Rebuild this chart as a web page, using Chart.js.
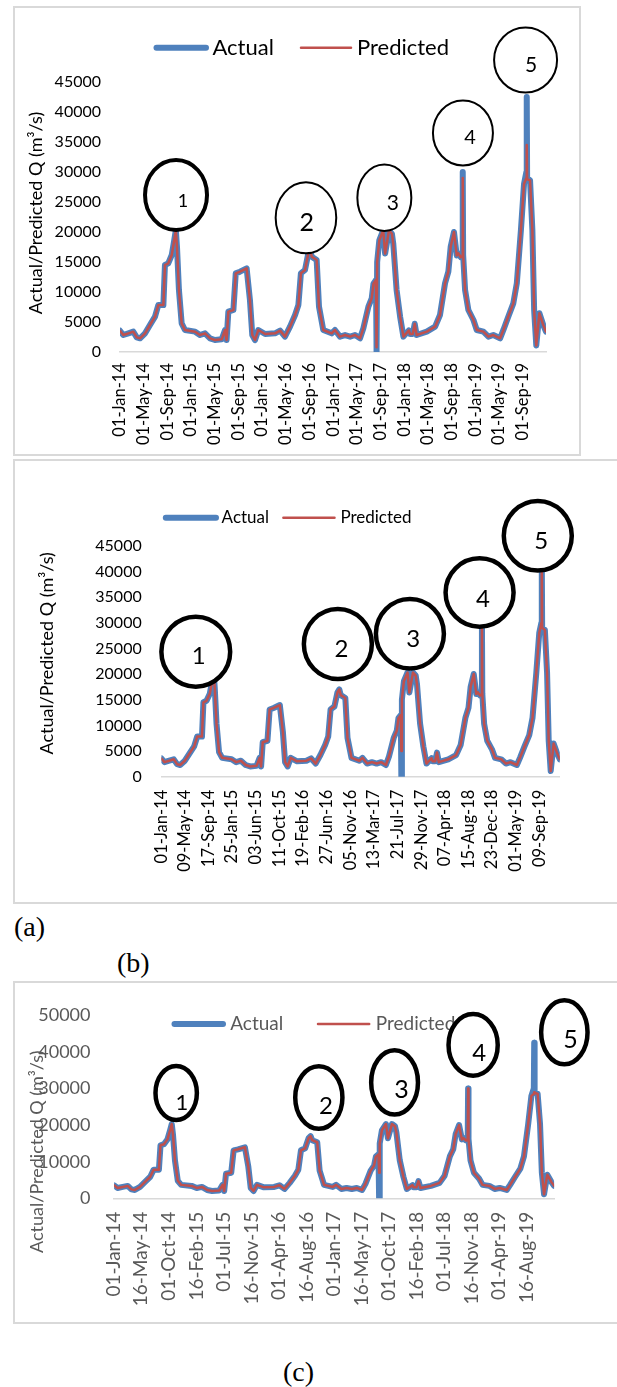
<!DOCTYPE html>
<html>
<head>
<meta charset="utf-8">
<script src="https://cdn.jsdelivr.net/npm/chart.js@4.4.1/dist/chart.umd.min.js"></script>
<style>
  html, body { margin: 0; padding: 0; background: #fff; }
  body { position: relative; width: 617px; height: 1387px; overflow: hidden; }
  .frame { position: absolute; box-sizing: border-box; border: 2px solid #d9d9d9; }
  canvas { position: absolute; }
  .tag { position: absolute; font-family: 'Liberation Serif', 'Times New Roman', serif; font-size: 28px; line-height: 1; color: #000; }
</style>
</head>
<body>
<div class="frame" style="left:13px;top:6px;width:568px;height:450px"></div>
<div class="frame" style="left:13px;top:459px;width:620px;height:445px"></div>
<div class="frame" style="left:13px;top:981px;width:620px;height:343px"></div>

<canvas id="chartA" width="568" height="450" style="left:13px;top:6px"></canvas>
<canvas id="chartB" width="604" height="445" style="left:13px;top:459px"></canvas>
<canvas id="chartC" width="604" height="343" style="left:13px;top:981px"></canvas>

<div class="tag" style="left:14px;top:913px">(a)</div>
<div class="tag" style="left:117px;top:949px">(b)</div>
<div class="tag" style="left:283px;top:1358px">(c)</div>

<script>
// daily discharge, sampled where the curve turns
const flowDates = [
  '2014-01-01', '2014-01-18', '2014-02-13', '2014-03-10', '2014-03-28', '2014-04-14', '2014-05-10', '2014-06-04', '2014-06-30', '2014-07-17',
  '2014-08-12', '2014-08-20', '2014-09-06', '2014-09-24', '2014-10-07', '2014-10-15', '2014-10-21', '2014-10-31', '2014-11-14', '2014-12-01',
  '2015-01-22', '2015-02-16', '2015-03-14', '2015-04-09', '2015-05-04', '2015-06-08', '2015-06-25', '2015-07-03', '2015-07-12', '2015-08-07',
  '2015-08-19', '2015-09-10', '2015-10-14', '2015-10-31', '2015-11-12', '2015-11-26', '2015-12-13', '2016-01-17', '2016-03-08', '2016-04-03',
  '2016-04-28', '2016-05-24', '2016-06-19', '2016-07-06', '2016-07-19', '2016-08-09', '2016-08-26', '2016-09-05', '2016-09-13', '2016-10-08',
  '2016-10-20', '2016-11-11', '2016-12-24', '2017-01-10', '2017-02-05', '2017-03-03', '2017-03-29', '2017-04-23', '2017-05-19', '2017-06-05',
  '2017-07-01', '2017-07-18', '2017-07-27', '2017-08-09', '2017-08-12', '2017-08-15', '2017-08-26', '2017-09-15', '2017-09-25', '2017-10-15',
  '2017-10-30', '2017-11-06', '2017-11-23', '2017-12-11', '2017-12-28', '2018-01-25', '2018-01-31', '2018-02-14', '2018-02-24', '2018-03-06',
  '2018-04-27', '2018-06-09', '2018-07-04', '2018-07-30', '2018-08-16', '2018-08-28', '2018-09-14', '2018-09-28', '2018-10-06', '2018-10-19',
  '2018-10-27', '2018-10-29', '2018-10-31', '2018-11-10', '2018-11-27', '2018-12-23', '2019-01-09', '2019-02-12', '2019-03-10', '2019-04-04',
  '2019-05-09', '2019-05-26', '2019-06-20', '2019-07-16', '2019-08-03', '2019-08-24', '2019-09-09', '2019-09-21', '2019-09-23', '2019-09-25',
  '2019-10-10', '2019-10-22', '2019-10-31', '2019-11-11', '2019-11-27', '2019-12-17', '2019-12-31'
]

const actualQ = [
  3550, 2830, 3110, 3390, 2440, 2280, 3110, 4500, 5890, 7830,
  7830, 14500, 14780, 16170, 18670, 20300, 17500, 10330, 4780, 3670,
  3390, 2830, 3110, 2280, 2000, 2110, 3670, 2000, 6720, 7000,
  13100, 13390, 13950, 8670, 2830, 2000, 3670, 3000, 3110, 3560,
  2560, 4220, 6170, 7830, 13120, 13670, 16450, 17000, 15890, 15330,
  7560, 3670, 3110, 3670, 2560, 2830, 2560, 2830, 2280, 3940,
  7560, 8950, 11400, 12000, 0, 15000, 18600, 20300, 16400, 20300,
  19700, 18000, 10330, 5890, 2560, 3600, 3000, 3000, 4700, 2830,
  3390, 4220, 6170, 11450, 13390, 17550, 20000, 16100, 16450, 15800,
  16000, 30000, 16200, 10330, 7000, 5330, 3670, 3390, 2560, 2830,
  2280, 3670, 5890, 8110, 11450, 20300, 28000, 30000, 42500, 29000,
  28600, 20300, 7000, 1100, 6450, 4500, 3390
]

// model (a)
const predictedA = [
  3550, 2830, 3110, 3390, 2440, 2280, 3110, 4500, 5890, 7830,
  7830, 14500, 14780, 16170, 18670, 20300, 17500, 10330, 4780, 3670,
  3390, 2830, 3110, 2280, 2000, 2110, 3670, 2000, 6720, 7000,
  13100, 13390, 13950, 8670, 2830, 2000, 3670, 3000, 3110, 3560,
  2560, 4220, 6170, 7830, 13120, 13670, 16450, 17000, 15890, 15330,
  7560, 3670, 3110, 3670, 2560, 2830, 2560, 2830, 2280, 3940,
  7560, 8950, 11400, 12000, 800, 15000, 18600, 20300, 16400, 20300,
  19700, 18000, 10330, 5890, 2560, 3600, 3000, 3000, 4700, 2830,
  3390, 4220, 6170, 11450, 13390, 17550, 20000, 16100, 16450, 15800,
  16000, 29000, 16200, 10330, 7000, 5330, 3670, 3390, 2560, 2830,
  2280, 3670, 5890, 8110, 11450, 20300, 28000, 29000, 34500, 28800,
  28600, 20300, 7000, 1100, 6450, 4500, 3390
]

// model (b)
const predictedB = [
  3550, 2830, 3110, 3390, 2440, 2280, 3110, 4500, 5890, 7830,
  7830, 14500, 14780, 16170, 18670, 20300, 17500, 10330, 4780, 3670,
  3390, 2830, 3110, 2280, 2000, 2110, 3670, 2000, 6720, 7000,
  13100, 13390, 13950, 8670, 2830, 2000, 3670, 3000, 3110, 3560,
  2560, 4220, 6170, 7830, 13120, 13670, 16450, 17000, 15890, 15330,
  7560, 3670, 3110, 3670, 2560, 2830, 2560, 2830, 2280, 3940,
  7560, 8950, 11400, 12000, 5000, 15000, 18600, 20300, 16400, 20300,
  19700, 18000, 10330, 5890, 2560, 3600, 3000, 3000, 4700, 2830,
  3390, 4220, 6170, 11450, 13390, 17550, 20000, 16100, 16450, 15800,
  16000, 29500, 16200, 10330, 7000, 5330, 3670, 3390, 2560, 2830,
  2280, 3670, 5890, 8110, 11450, 20300, 28000, 30000, 41000, 29000,
  28600, 20300, 7000, 1100, 6450, 4500, 3390
]

// model (c)
const predictedC = [
  3550, 2830, 3110, 3390, 2440, 2280, 3110, 4500, 5890, 7830,
  7830, 14500, 14780, 16170, 18670, 20300, 17500, 10330, 4780, 3670,
  3390, 2830, 3110, 2280, 2000, 2110, 3670, 2000, 6720, 7000,
  13100, 13390, 13950, 8670, 2830, 2000, 3670, 3000, 3110, 3560,
  2560, 4220, 6170, 7830, 13120, 13670, 16450, 17000, 15890, 15330,
  7560, 3670, 3110, 3670, 2560, 2830, 2560, 2830, 2280, 3940,
  7560, 8950, 11400, 12000, 7000, 15000, 18600, 20300, 16400, 20300,
  19700, 18000, 10330, 5890, 2560, 3600, 3000, 3000, 4700, 2830,
  3390, 4220, 6170, 11450, 13390, 17550, 20000, 16100, 16450, 15800,
  16000, 30000, 16200, 10330, 7000, 5330, 3670, 3390, 2560, 2830,
  2280, 3670, 5890, 8110, 11450, 20300, 28000, 28500, 29000, 28800,
  28600, 20300, 7000, 1100, 6450, 4500, 3390
]

const tickLabelsA = ['01-Jan-14', '01-May-14', '01-Sep-14', '01-Jan-15', '01-May-15', '01-Sep-15', '01-Jan-16', '01-May-16', '01-Sep-16',
  '01-Jan-17', '01-May-17', '01-Sep-17', '01-Jan-18', '01-May-18', '01-Sep-18', '01-Jan-19', '01-May-19', '01-Sep-19']
const tickLabelsB = ['01-Jan-14', '09-May-14', '17-Sep-14', '25-Jan-15', '03-Jun-15', '11-Oct-15', '19-Feb-16', '27-Jun-16', '05-Nov-16',
  '13-Mar-17', '21-Jul-17', '29-Nov-17', '07-Apr-18', '15-Aug-18', '23-Dec-18', '01-May-19', '09-Sep-19']
const tickLabelsC = ['01-Jan-14', '16-May-14', '01-Oct-14', '16-Feb-15', '01-Jul-15', '16-Nov-15', '01-Apr-16', '16-Aug-16',
  '01-Jan-17', '16-May-17', '01-Oct-17', '16-Feb-18', '01-Jul-18', '16-Nov-18', '01-Apr-19', '16-Aug-19']

// numbered flood events, anchored in data space
const eventLabels = ['1', '2', '3', '4', '5']
const eventDatesA = ['2014-10-16', '2016-08-14', '2017-09-21', '2018-10-30', '2019-09-17']
const eventValuesA = [26170, 22370, 25720, 36500, 48670]
const eventDatesB = ['2014-07-09', '2016-08-28', '2017-09-28', '2018-10-16', '2019-09-01']
const eventValuesB = [24350, 25850, 27860, 35880, 46930]
const eventDatesC = ['2014-11-06', '2016-10-16', '2017-10-28', '2018-11-23', '2020-02-20']
const eventValuesC = [28770, 27550, 31690, 41940, 45380]

const yTitle = 'Actual/Predicted Q (m³/s)'

const blue = '#4f81bd'
const red = '#c0504d'
const months = ['Jan', 'Feb', 'Mar', 'Apr', 'May', 'Jun', 'Jul', 'Aug', 'Sep', 'Oct', 'Nov', 'Dec']
const origin = Date.UTC(2014, 0, 1)
const dayMs = 86400000

function isoDay(s) {
  const [y, m, d] = s.split('-').map(Number)
  return (Date.UTC(y, m - 1, d) - origin) / dayMs
}

function labelDay(label) {
  const [d, mon, yy] = label.split('-')
  return (Date.UTC(2000 + Number(yy), months.indexOf(mon), Number(d)) - origin) / dayMs
}

const lastDay = isoDay(flowDates[flowDates.length - 1])

Chart.defaults.font.family = "Lato, 'Liberation Sans', sans-serif"

const decor = {
  id: 'decor',
  afterDatasetsDraw(chart, args, o) {
    const { ctx } = chart
    ctx.save()
    ctx.translate(o.title.x, o.title.y)
    ctx.rotate(-Math.PI / 2)
    ctx.font = `${o.title.size}px Lato`
    ctx.fillStyle = o.color
    ctx.textAlign = 'center'
    ctx.textBaseline = 'middle'
    ctx.fillText(yTitle, 0, 0)
    ctx.restore()

    ctx.save()
    ctx.font = `${o.legend.size}px Lato`
    ctx.textAlign = 'left'
    ctx.textBaseline = 'middle'
    ctx.fillStyle = o.color
    chart.data.datasets.forEach((ds, i) => {
      const [x0, x1, tx] = o.legend.items[i]
      ctx.strokeStyle = ds.borderColor
      ctx.lineWidth = ds.borderWidth
      ctx.lineCap = 'round'
      ctx.beginPath()
      ctx.moveTo(x0, o.legend.y)
      ctx.lineTo(x1, o.legend.y)
      ctx.stroke()
      ctx.fillText(ds.label, tx, o.legend.y)
    })
    ctx.restore()
  },
  afterDraw(chart, args, o) {
    const { ctx } = chart
    const { x, y } = chart.scales
    const ev = o.events
    ctx.save()
    ev.dates.forEach((d, i) => {
      const cx = x.getPixelForValue(isoDay(d))
      const cy = y.getPixelForValue(ev.values[i])
      ctx.beginPath()
      ctx.ellipse(cx, cy, ev.rx[i], ev.ry[i], 0, 0, Math.PI * 2)
      ctx.fillStyle = '#fff'
      ctx.fill()
      ctx.lineWidth = ev.width[i]
      ctx.strokeStyle = '#000'
      ctx.stroke()
      ctx.fillStyle = '#000'
      ctx.font = `${ev.size[i]}px Lato`
      ctx.textAlign = 'center'
      ctx.textBaseline = 'middle'
      ctx.fillText(eventLabels[i], cx + ev.dx[i], cy + ev.dy[i])
    })
    ctx.restore()
  },
}

function buildChart(id, c) {
  const points = (vals) => flowDates.map((d, i) => ({ x: isoDay(d), y: vals[i] }))
  return new Chart(document.getElementById(id), {
    type: 'line',
    data: {
      datasets: [
        { label: 'Actual', data: points(actualQ), borderColor: blue, borderWidth: 6, order: 2 },
        { label: 'Predicted', data: points(c.predicted), borderColor: red, borderWidth: 2.5, order: 1 },
      ],
    },
    options: {
      responsive: false,
      animation: false,
      layout: { padding: { left: 0, top: c.top, right: c.right, bottom: 0 } },
      elements: {
        point: { radius: 0 },
        line: { tension: 0, borderJoinStyle: 'round', borderCapStyle: 'round' },
      },
      plugins: {
        legend: { display: false },
        tooltip: { enabled: false },
        decor: { color: c.color, title: c.title, legend: c.legend, events: c.events },
      },
      scales: {
        x: {
          type: 'linear',
          min: 0,
          max: lastDay,
          grid: { display: false, drawTicks: false },
          border: { display: true, color: '#d9d9d9', width: 1.5 },
          afterBuildTicks: (s) => { s.ticks = c.ticks.map((l) => ({ value: labelDay(l) })) },
          afterFit: (s) => { s.height = c.xHeight },
          ticks: {
            autoSkip: false,
            maxRotation: 90,
            minRotation: 90,
            padding: c.xPad,
            color: c.color,
            font: { size: c.xFont },
            callback: (v, i) => c.ticks[i],
          },
        },
        y: {
          min: 0,
          max: c.yMax,
          grid: { display: false, drawTicks: false },
          border: { display: false },
          afterFit: (s) => { s.width = c.left },
          ticks: {
            stepSize: c.step,
            padding: c.yPad,
            color: c.color,
            font: { size: c.yFont },
            callback: (v) => String(v),
          },
        },
      },
    },
    plugins: [decor],
  })
}

buildChart('chartA', {
  predicted: predictedA, ticks: tickLabelsA, yMax: 45000, step: 5000,
  left: 107, top: 76, right: 35, xHeight: 104, yPad: 19, xPad: 11, yFont: 16, xFont: 16.5, color: '#000',
  title: { x: 23, y: 207, size: 18 },
  legend: { y: 41.7, size: 22, items: [[143.5, 193, 199.5], [288, 338, 344]] },
  events: {
    dates: eventDatesA, values: eventValuesA,
    rx: [31, 30.3, 27, 30, 31.5], ry: [35, 35.5, 33.3, 32.5, 32.5],
    width: [4, 2, 2, 2, 2], size: [18, 25, 21, 20, 21],
    dx: [7, 0.7, 8.5, 7, 5.5], dy: [6, 5.5, 5.3, 4.3, 5],
  },
})

buildChart('chartB', {
  predicted: predictedB, ticks: tickLabelsB, yMax: 45000, step: 5000,
  left: 148.4, top: 86.7, right: 57.2, xHeight: 127.3, yPad: 19.7, xPad: 13, yFont: 16, xFont: 16.5, color: '#000',
  title: { x: 34.2, y: 194.3, size: 18 },
  legend: { y: 58.7, size: 17, items: [[152.8, 203, 208.6], [270.4, 321.5, 327.4]] },
  events: {
    dates: eventDatesB, values: eventValuesB,
    rx: [34.4, 34, 34, 34, 34], ry: [35, 35, 34.7, 34.2, 34.8],
    width: [4.5, 4.5, 4.5, 4.5, 4.5], size: [24, 24, 24, 24, 24],
    dx: [2.9, 3.7, 3.3, 3.4, 3.3], dy: [5, 5.3, 5.3, 6.8, 5.9],
  },
})

buildChart('chartC', {
  predicted: predictedC, ticks: tickLabelsC, yMax: 50000, step: 10000,
  left: 101.1, top: 15.7, right: 62.9, xHeight: 125.7, yPad: 23.6, xPad: 13.4, yFont: 18, xFont: 19, color: '#595959',
  title: { x: 24.4, y: 170.7, size: 18 },
  legend: { y: 43, size: 19, items: [[161.5, 210, 217.2], [305, 356.2, 362.8]] },
  events: {
    dates: eventDatesC, values: eventValuesC,
    rx: [20.7, 23.6, 23.4, 24.6, 23.2], ry: [27, 31.2, 32.2, 30.8, 32],
    width: [4.5, 4.5, 4.5, 4.5, 4.5], size: [22, 24, 25, 24, 25],
    dx: [5.7, 7.1, 6.9, 6.1, 6.2], dy: [9.4, 8.5, 7.2, 8.5, 7.4],
  },
})
</script>
</body>
</html>
